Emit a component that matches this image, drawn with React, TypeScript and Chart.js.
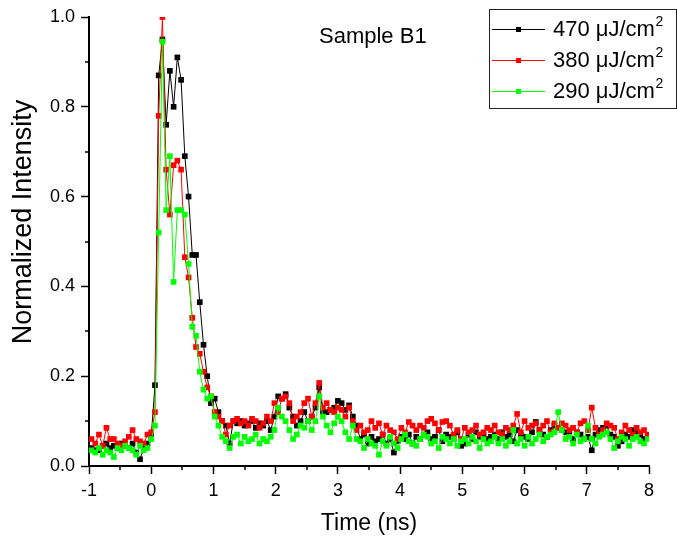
import { useEffect, useRef } from "react";
import { Chart, registerables } from "chart.js";

Chart.register(...registerables);

const FONT = '"Liberation Sans", Arial, Helvetica, sans-serif';

// Time axis (ns)
const TIME_NS = [
  -0.96, -0.9, -0.84, -0.78, -0.72, -0.66, -0.6, -0.54, -0.48, -0.42,
  -0.36, -0.3, -0.24, -0.18, -0.12, -0.06, 0.0, 0.06, 0.12, 0.18,
  0.24, 0.3, 0.36, 0.42, 0.48, 0.54, 0.6, 0.66, 0.72, 0.78,
  0.84, 0.9, 0.96, 1.02, 1.08, 1.14, 1.2, 1.26, 1.32, 1.38,
  1.44, 1.5, 1.56, 1.62, 1.68, 1.74, 1.8, 1.86, 1.92, 1.98,
  2.04, 2.1, 2.16, 2.22, 2.28, 2.34, 2.4, 2.46, 2.52, 2.58,
  2.64, 2.7, 2.76, 2.82, 2.88, 2.94, 3.0, 3.06, 3.12, 3.18,
  3.24, 3.3, 3.36, 3.42, 3.48, 3.54, 3.6, 3.66, 3.72, 3.78,
  3.84, 3.9, 3.96, 4.02, 4.08, 4.14, 4.2, 4.26, 4.32, 4.38,
  4.44, 4.5, 4.56, 4.62, 4.68, 4.74, 4.8, 4.86, 4.92, 4.98,
  5.04, 5.1, 5.16, 5.22, 5.28, 5.34, 5.4, 5.46, 5.52, 5.58,
  5.64, 5.7, 5.76, 5.82, 5.88, 5.94, 6.0, 6.06, 6.12, 6.18,
  6.24, 6.3, 6.36, 6.42, 6.48, 6.54, 6.6, 6.66, 6.72, 6.78,
  6.84, 6.9, 6.96, 7.02, 7.08, 7.14, 7.2, 7.26, 7.32, 7.38,
  7.44, 7.5, 7.56, 7.62, 7.68, 7.74, 7.8, 7.86, 7.92, 7.98,
];

// 470 uJ/cm2 (black)
const INT_470 = [
  0.04, 0.035, 0.035, 0.045, 0.05, 0.04, 0.045, 0.04, 0.05, 0.045,
  0.04, 0.05, 0.03, 0.015, 0.04, 0.05, 0.065, 0.18, 0.87, 0.95,
  0.76, 0.88, 0.8, 0.91, 0.86, 0.69, 0.6, 0.47, 0.47, 0.365,
  0.27, 0.2, 0.14, 0.15, 0.12, 0.1, 0.09, 0.05, 0.1, 0.095,
  0.1, 0.09, 0.095, 0.1, 0.085, 0.095, 0.09, 0.1, 0.08, 0.11,
  0.155, 0.15, 0.16, 0.13, 0.11, 0.09, 0.1, 0.12, 0.1, 0.11,
  0.13, 0.175, 0.12, 0.12, 0.125, 0.13, 0.145, 0.14, 0.125, 0.135,
  0.11, 0.09, 0.06, 0.07, 0.05, 0.065, 0.055, 0.06, 0.07, 0.05,
  0.06, 0.03, 0.055, 0.065, 0.06, 0.07, 0.05, 0.065, 0.06, 0.07,
  0.075, 0.06, 0.065, 0.08, 0.055, 0.07, 0.065, 0.06, 0.075, 0.045,
  0.05, 0.07, 0.06, 0.075, 0.065, 0.07, 0.06, 0.065, 0.07, 0.06,
  0.075, 0.065, 0.07, 0.055, 0.08, 0.07, 0.065, 0.06, 0.075, 0.098,
  0.08, 0.07, 0.065, 0.08, 0.09, 0.085, 0.08, 0.075, 0.07, 0.06,
  0.075, 0.07, 0.06, 0.065, 0.035, 0.07, 0.08, 0.085, 0.09, 0.07,
  0.065, 0.045, 0.055, 0.07, 0.065, 0.08, 0.075, 0.07, 0.06, 0.065,
];

// 380 uJ/cm2 (red)
const INT_380 = [
  0.06, 0.05, 0.07, 0.045, 0.085, 0.06, 0.06, 0.05, 0.045, 0.055,
  0.065, 0.08, 0.06, 0.055, 0.05, 0.07, 0.075, 0.12, 0.78, 1.0,
  0.66, 0.56, 0.67, 0.68, 0.66, 0.465, 0.42, 0.33, 0.265, 0.25,
  0.21, 0.175, 0.155, 0.12, 0.11, 0.1, 0.07, 0.09, 0.1, 0.105,
  0.095, 0.1, 0.09, 0.105, 0.1, 0.085, 0.095, 0.11, 0.1, 0.14,
  0.12, 0.15, 0.155, 0.14, 0.1, 0.11, 0.12, 0.14, 0.15, 0.11,
  0.14, 0.185, 0.13, 0.14, 0.125, 0.12, 0.13, 0.125, 0.11, 0.13,
  0.1, 0.08, 0.09, 0.075, 0.08, 0.1, 0.085, 0.095, 0.07, 0.09,
  0.08, 0.075, 0.06, 0.085, 0.075, 0.098, 0.09, 0.08, 0.09, 0.085,
  0.1, 0.105, 0.095, 0.08, 0.098, 0.1, 0.09, 0.07, 0.08, 0.06,
  0.085, 0.075, 0.08, 0.09, 0.07, 0.075, 0.085, 0.08, 0.09, 0.075,
  0.07, 0.085, 0.08, 0.09, 0.116, 0.075, 0.1, 0.085, 0.09, 0.095,
  0.08, 0.09, 0.1, 0.075, 0.095, 0.085, 0.095, 0.09, 0.08, 0.085,
  0.075, 0.095, 0.1, 0.08, 0.13, 0.085, 0.07, 0.08, 0.095, 0.09,
  0.085, 0.06, 0.075, 0.09, 0.08, 0.07, 0.085, 0.075, 0.08, 0.07,
];

// 290 uJ/cm2 (green)
const INT_290 = [
  0.035, 0.03, 0.04, 0.025, 0.035, 0.03, 0.02, 0.04, 0.035, 0.045,
  0.04, 0.035, 0.025, 0.045, 0.035, 0.04, 0.06, 0.09, 0.52, 0.945,
  0.57, 0.69, 0.41, 0.57, 0.57, 0.56, 0.45, 0.31, 0.29, 0.21,
  0.17, 0.15, 0.155, 0.11, 0.09, 0.065, 0.055, 0.04, 0.065, 0.07,
  0.05, 0.065, 0.055, 0.06, 0.07, 0.05, 0.06, 0.055, 0.065, 0.08,
  0.13, 0.11, 0.1, 0.08, 0.06, 0.07, 0.09, 0.085, 0.1, 0.08,
  0.1, 0.155, 0.11, 0.09, 0.075, 0.095, 0.11, 0.1, 0.075, 0.06,
  0.09, 0.06, 0.055, 0.04, 0.06, 0.05, 0.045, 0.025, 0.055, 0.045,
  0.065, 0.05, 0.04, 0.06, 0.07, 0.055, 0.05, 0.045, 0.06, 0.07,
  0.065, 0.05, 0.055, 0.04, 0.065, 0.06, 0.05, 0.06, 0.045, 0.055,
  0.06, 0.05, 0.065, 0.055, 0.04, 0.06, 0.05, 0.055, 0.065, 0.05,
  0.06, 0.045, 0.055, 0.08, 0.05, 0.06, 0.045, 0.065, 0.05, 0.06,
  0.07, 0.055, 0.065, 0.07, 0.075, 0.12, 0.08, 0.06, 0.065, 0.05,
  0.07, 0.055, 0.06, 0.09, 0.06, 0.05, 0.065, 0.07, 0.075, 0.06,
  0.04, 0.055, 0.065, 0.06, 0.045, 0.06, 0.065, 0.055, 0.05, 0.06,
];

const SERIES_LABELS = ["470 μJ/cm", "380 μJ/cm", "290 μJ/cm"];
const SERIES_SUP = "2";
const SERIES_COLORS = ["#000000", "#ff0000", "#00ff00"];
const SERIES_VALUES = [INT_470, INT_380, INT_290];

const X_MIN = -1;
const X_MAX = 8;
const X_MINOR = [-0.5, 0.5, 1.5, 2.5, 3.5, 4.5, 5.5, 6.5, 7.5];
const Y_MIN = 0;
const Y_MAX = 1.0;
const Y_MINOR = [0.1, 0.3, 0.5, 0.7, 0.9];

const X_TITLE = "Time (ns)";
const Y_TITLE = "Normalized Intensity";
const PLOT_TITLE = "Sample B1";

const decorPlugin = {
  id: "decor",
  afterDraw(chart: any) {
    const { ctx, chartArea, scales } = chart;
    const xs = scales.x;
    const ys = scales.y;
    ctx.save();
    // minor ticks
    ctx.strokeStyle = "#000";
    ctx.lineWidth = 1.5;
    for (const v of X_MINOR) {
      const p = Math.round(xs.getPixelForValue(v));
      ctx.beginPath();
      ctx.moveTo(p, chartArea.bottom);
      ctx.lineTo(p, chartArea.bottom + 4);
      ctx.stroke();
    }
    for (const v of Y_MINOR) {
      const p = Math.round(ys.getPixelForValue(v));
      ctx.beginPath();
      ctx.moveTo(chartArea.left - 4, p);
      ctx.lineTo(chartArea.left, p);
      ctx.stroke();
    }

    // y axis title
    ctx.save();
    ctx.translate(24, 222);
    ctx.rotate(-Math.PI / 2);
    ctx.font = `27px ${FONT}`;
    ctx.fillStyle = "#000";
    ctx.textAlign = "center";
    ctx.textBaseline = "middle";
    ctx.fillText(Y_TITLE, 0, 0);
    ctx.restore();

    // plot title
    ctx.font = `22px ${FONT}`;
    ctx.fillStyle = "#000";
    ctx.textAlign = "left";
    ctx.textBaseline = "middle";
    ctx.fillText(PLOT_TITLE, 319, 37);

    // legend
    ctx.lineWidth = 1;
    ctx.strokeStyle = "#222";
    ctx.strokeRect(489.5, 9.5, 187, 99);
    const rowsY = [29, 60, 91];
    SERIES_LABELS.forEach((label, i) => {
      const y = rowsY[i];
      const color = SERIES_COLORS[i];
      ctx.strokeStyle = color;
      ctx.lineWidth = 1;
      ctx.beginPath();
      ctx.moveTo(492, y + 0.5);
      ctx.lineTo(545, y + 0.5);
      ctx.stroke();
      ctx.fillStyle = color;
      ctx.fillRect(516, y - 2, 5, 5);
      ctx.fillStyle = "#000";
      ctx.font = `22px ${FONT}`;
      ctx.textAlign = "left";
      ctx.textBaseline = "middle";
      ctx.fillText(label, 553, y + 1);
      const w = ctx.measureText(label).width;
      ctx.font = `14px ${FONT}`;
      ctx.fillText(SERIES_SUP, 553 + w + 0.5, y - 7);
    });
    ctx.restore();
  },
};

export default function App() {
  const ref = useRef<HTMLCanvasElement>(null);

  useEffect(() => {
    const canvas = ref.current;
    if (!canvas) return;
    const orders = [2, 1, 0];
    const datasets = SERIES_VALUES.map((vals, s) => ({
      label: SERIES_LABELS[s],
      data: TIME_NS.map((t, i) => ({ x: t, y: vals[i] })),
      borderColor: SERIES_COLORS[s],
      backgroundColor: SERIES_COLORS[s],
      borderWidth: 1,
      pointStyle: "rect",
      pointRadius: 4,
      pointBorderWidth: 0,
      pointBackgroundColor: SERIES_COLORS[s],
      showLine: true,
      tension: 0,
      fill: false,
      order: orders[s],
    }));

    const chart = new Chart(canvas, {
      type: "line",
      data: { datasets } as any,
      options: {
        responsive: false,
        animation: false,
        devicePixelRatio: 1,
        layout: { padding: { left: 0, right: 28, top: 17, bottom: 0 } },
        plugins: {
          legend: { display: false },
          tooltip: { enabled: false },
          title: { display: false },
        },
        scales: {
          x: {
            type: "linear",
            min: X_MIN,
            max: X_MAX,
            afterFit: (scale: any) => {
              scale.height = 76;
            },
            ticks: {
              stepSize: 1,
              color: "#000",
              font: { family: FONT, size: 18 },
              padding: 6,
              maxRotation: 0,
              callback: (v: any) => String(Math.round(Number(v))),
            },
            grid: {
              drawOnChartArea: false,
              drawTicks: true,
              tickLength: 8,
              tickWidth: 1.5,
              tickColor: "#000",
              color: "#000",
            },
            border: { display: true, color: "#000", width: 2 },
            title: {
              display: true,
              text: X_TITLE,
              color: "#000",
              font: { family: FONT, size: 23 },
              padding: { top: 0, bottom: 5 },
            },
          },
          y: {
            type: "linear",
            min: Y_MIN,
            max: Y_MAX,
            afterFit: (scale: any) => {
              scale.width = 89;
            },
            ticks: {
              stepSize: 0.2,
              color: "#000",
              font: { family: FONT, size: 18 },
              padding: 6,
              callback: (v: any) => Number(v).toFixed(1),
            },
            grid: {
              drawOnChartArea: false,
              drawTicks: true,
              tickLength: 8,
              tickWidth: 1.5,
              tickColor: "#000",
              color: "#000",
            },
            border: { display: true, color: "#000", width: 2 },
          },
        },
      },
      plugins: [decorPlugin],
    } as any);

    return () => chart.destroy();
  }, []);

  return (
    <div
      style={{
        position: "absolute",
        left: 0,
        top: 0,
        width: 677,
        height: 542,
        background: "#fff",
      }}
    >
      <canvas
        ref={ref}
        width={677}
        height={542}
        style={{ width: 677, height: 542, display: "block" }}
      />
    </div>
  );
}
